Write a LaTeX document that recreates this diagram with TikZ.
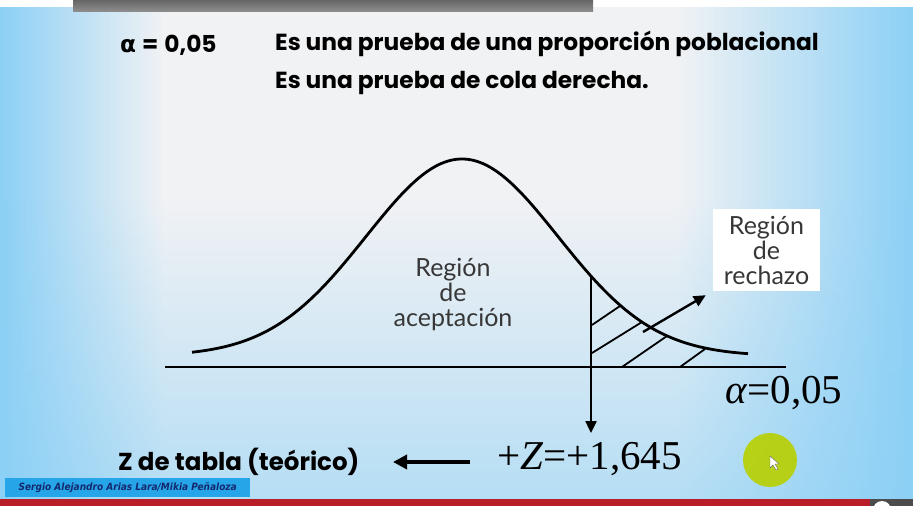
\documentclass[tikz,border=0pt]{standalone}
\usepackage{fontspec}
\setmainfont{Liberation Serif}
\newfontfamily\comic{Poppins}
\newfontfamily\greekb{DejaVu Sans}
\newfontfamily\regf{Lato}
\newfontfamily\tms{Liberation Serif}
\newfontfamily\labf{DejaVu Sans Condensed}
\usetikzlibrary{arrows.meta,fadings}
\definecolor{bgblue}{RGB}{140,208,245}
\definecolor{bgwhite}{RGB}{241,242,244}
\definecolor{labblue}{RGB}{38,166,232}
\definecolor{labtext}{RGB}{20,40,110}
\definecolor{redbar}{RGB}{185,30,40}
\definecolor{dotyel}{RGB}{184,208,0}
\definecolor{txtgray}{RGB}{55,55,55}
\pgfdeclarehorizontalshading{bgh}{100bp}{color(0bp)=(bgblue); color(25bp)=(bgblue); color(34bp)=(bgwhite); color(62bp)=(bgwhite); color(75bp)=(bgblue); color(100bp)=(bgblue)}
\tikzset{
  toptext/.style={inner sep=0pt, anchor=west, font=\comic\bfseries\fontsize{23.3}{26}\selectfont, text=black},
  bottext/.style={inner sep=0pt, anchor=west, font=\comic\bfseries\fontsize{24.5}{26}\selectfont, text=black},
  regtext/.style={inner sep=0pt, align=center, font=\regf\fontsize{25}{25}\selectfont, text=txtgray},
  mathtext/.style={inner sep=0pt, font=\tms\fontsize{41}{44}\selectfont, text=black},
  thickline/.style={line width=2.8pt, black},
  hatchline/.style={line width=1.8pt, black},
  arr/.style={line width=2.4pt, black, -{Triangle[length=12pt,width=11pt]}},
  bigarr/.style={line width=3.6pt, black, -{Triangle[length=14pt,width=14pt]}}
}
\begin{document}
\begin{tikzpicture}[x=1pt,y=-1pt]
\useasboundingbox (0,0) rectangle (913,506);
% background
\shade[shading=bgh] (0,0) rectangle (913,506);
\fill[bgblue, path fading=north, fill opacity=0.6] (0,200) rectangle (913,506);
\fill[white] (0,0) rectangle (913,7);
\shade[top color=black!60, bottom color=black!45] (73,0) rectangle (593,11);
% bottom bars
\fill[redbar] (0,499) rectangle (870,506);
\fill[black!70] (870,499) rectangle (913,506);
\fill[white] (882,510) circle (9);
\node[fill=labblue, minimum width=245pt, minimum height=19pt, inner sep=0pt, anchor=north west,
      font=\labf\bfseries\itshape\fontsize{10}{11}\selectfont, text=labtext] (lab) at (5,478)
      {Sergio Alejandro Arias Lara/Mikia Peñaloza};
% header texts
\node[toptext] (alpha) at (120,45) {{\greekb α}\hspace{6pt}=\hspace{6pt}0,05};
\node[toptext] (t1) at (275,44) {Es una prueba de una proporción poblacional};
\node[toptext] (t2) at (275,83) {Es una prueba de cola derecha.};
% axis and curve
\coordinate (ax0) at (165,367);
\coordinate (ax1) at (786,367);
\draw[thickline] (ax0) -- (ax1);
\draw[thickline] plot[domain=192:748, samples=140, smooth] (\x, {356-197*exp(-((\x-462)/96)^2/2)});
% hatching
\draw[hatchline] (591,276) -- (591,367);
\draw[hatchline] (592,325) -- (620,306);
\draw[hatchline] (592,353) -- (642,322);
\draw[hatchline] (622,367) -- (667,336);
\draw[hatchline] (680,367) -- (705,349);
% region labels
\node[regtext] (acep) at (453,295) {Región\\de\\aceptación};
\node[fill=white, minimum width=107pt, minimum height=82pt, inner sep=0pt] (rbox) at (766.5,250) {};
\node[regtext] (rech) at (rbox.center) {Región\\de\\rechazo};
% arrows
\coordinate (ha) at (643,332);
\draw[arr] (ha) -- ([shift={(-7,4)}]rbox.south west);
\coordinate (zc) at (591,300);
\coordinate (zt) at (591,433);
\draw[arr] (zc) -- (zt);
% alpha below
\node[mathtext, anchor=west] (alow) at (725,393) {\textit{α}=0,05};
% bottom row
\node[bottext] (ztab) at (118,462) {Z de tabla (teórico)};
\node[mathtext, anchor=west] (zval) at (497,459) {+\textit{Z}=+1,645};
\coordinate (la) at (470,462);
\coordinate (lb) at (393,462);
\draw[bigarr] (la) -- (lb);
% pointer dot
\fill[dotyel, opacity=0.9] (770,460) circle (27);
\coordinate (cur) at (770,456);
\filldraw[fill=white, draw=black!60, line width=0.4pt] (cur) -- ++(0,12) -- ++(3,-3) -- ++(3,5) -- ++(2,-1) -- ++(-3,-5) -- ++(4,0) -- cycle;
\end{tikzpicture}
\end{document}
